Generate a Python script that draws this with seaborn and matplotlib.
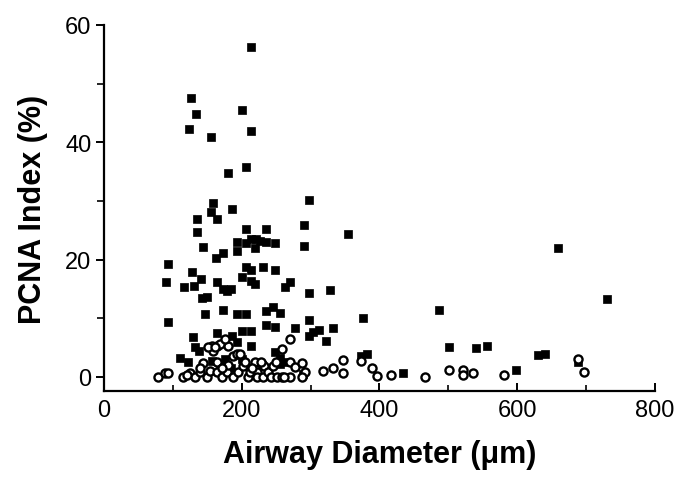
import matplotlib
matplotlib.use("Agg")
import matplotlib.pyplot as plt
import seaborn as sns
import pandas as pd
from matplotlib.ticker import MultipleLocator

# Filled squares
sq_x = [213, 127, 134, 200, 123, 155, 213, 206, 180,
        158, 186, 298, 135, 155, 164, 290, 135, 206, 235, 354,
        193, 207, 214, 221, 226, 235, 249, 220, 290, 144, 193, 173, 163, 93, 660,
        128, 207, 214, 231, 249, 200, 141, 214, 219, 164, 90, 116, 131, 270, 263,
        173, 178, 184, 142, 149, 298, 329, 731,
        173, 235, 245, 255, 147, 193, 206, 486, 93, 298, 376,
        235, 249, 277, 333, 298, 304, 312, 200, 214, 164, 129, 186, 322,
        132, 138, 214, 193, 110, 122, 248, 374, 382, 501, 541, 556, 631, 640,
        435, 255, 289, 598, 688, 157, 168, 176, 266, 255, 200, 230, 185]
sq_y = [56.2, 47.5, 44.8, 45.5, 42.2, 40.9, 41.9, 35.8, 34.8,
        29.7, 28.7, 30.1, 26.9, 28.1, 26.9, 25.9, 24.7, 25.2, 25.2, 24.4,
        23.0, 22.8, 23.5, 23.5, 23.2, 23.0, 22.8, 22.0, 22.3, 22.1, 21.5, 21.2, 20.2, 19.3, 22.0,
        17.9, 18.7, 18.3, 18.7, 18.3, 17.0, 16.7, 16.4, 15.8, 16.2, 16.2, 15.3, 15.5, 16.2, 15.3,
        15.0, 14.7, 15.0, 13.5, 13.6, 14.3, 14.8, 13.3,
        11.4, 11.2, 11.9, 10.9, 10.7, 10.7, 10.7, 11.4, 9.4, 9.7, 10.0,
        8.9, 8.5, 8.3, 8.3, 7.0, 7.7, 8.0, 7.8, 7.8, 7.5, 6.8, 7.0, 6.1,
        5.1, 4.5, 5.3, 5.9, 3.2, 2.5, 4.2, 3.6, 3.9, 5.1, 4.9, 5.3, 3.7, 3.9,
        0.7, 2.2, 0.5, 1.2, 2.5, 2.7, 1.9, 3.1, 2.5, 3.3, 3.0, 2.0, 1.5]

# Open circles
ci_x = [79, 88, 93, 115, 125, 132, 139, 144, 149, 154, 157, 164, 158, 151, 164, 164,
        171, 178, 180, 187, 193, 197, 187, 194, 202, 209, 212, 219, 222, 222, 231, 233,
        238, 243, 251, 258, 259, 270, 270, 277, 287, 292, 287, 270, 245, 262, 318, 333,
        347, 347, 374, 389, 396, 417, 466, 501, 521, 521, 536, 581, 688, 697, 168, 176,
        161, 120, 180, 205, 215, 228, 250, 140, 172]
ci_y = [0.0, 0.7, 0.7, 0.0, 0.7, 0.0, 0.8, 2.4, 0.0, 1.0, 5.3, 5.3, 4.5, 5.1, 2.5, 0.8,
        0.0, 0.8, 5.3, 3.6, 3.9, 3.9, 0.0, 0.8, 1.9, 0.0, 0.8, 2.5, 0.8, 0.0, 0.0, 1.9,
        0.8, 0.0, 0.0, 0.0, 4.8, 6.5, 2.5, 1.7, 2.4, 0.8, 0.0, 0.0, 1.9, 0.0, 1.0, 1.6,
        2.9, 0.7, 2.7, 1.5, 0.2, 0.3, 0.0, 1.2, 1.2, 0.3, 0.6, 0.3, 3.1, 0.8, 5.6, 6.5,
        5.1, 0.3, 2.0, 2.6, 1.5, 2.5, 2.5, 1.5, 1.5]

x_ticks = [0, 200, 400, 600, 800]
y_ticks = [0, 20, 40, 60]

sns.set_style("ticks")
plt.rcParams['font.family'] = ['Liberation Sans', 'DejaVu Sans']
plt.rcParams['text.color'] = 'black'
plt.rcParams['axes.labelcolor'] = 'black'

fig = plt.figure(figsize=(6.75, 4.81), dpi=100)
ax = fig.add_axes([0.154, 0.185, 0.816, 0.761])

df_sq = pd.DataFrame({"x": sq_x, "y": sq_y})
df_ci = pd.DataFrame({"x": ci_x, "y": ci_y})

sns.scatterplot(data=df_sq, x="x", y="y", marker="s", s=40, color="black",
                edgecolor="black", linewidth=0.5, ax=ax, zorder=3)
sns.scatterplot(data=df_ci, x="x", y="y", marker="o", s=34, facecolor="white",
                edgecolor="black", linewidth=1.7, ax=ax, zorder=4)

ax.set_xlim(0, 800)
ax.set_ylim(-2.4, 60)
ax.set_xticks(x_ticks)
ax.set_yticks(y_ticks)
ax.xaxis.set_minor_locator(MultipleLocator(100))
ax.yaxis.set_minor_locator(MultipleLocator(10))

for s in ["top", "right"]:
    ax.spines[s].set_visible(False)
for s in ["left", "bottom"]:
    ax.spines[s].set_linewidth(1.6)
    ax.spines[s].set_color("black")
ax.spines["left"].set_bounds(-2.4, 60)

ax.tick_params(axis="x", which="major", direction="in", length=6, width=1.4,
               labelsize=17, pad=6, colors="black")
ax.tick_params(axis="x", which="minor", direction="in", length=4, width=1.2, colors="black")
ax.tick_params(axis="y", which="major", direction="out", length=6, width=1.4,
               labelsize=17, pad=3, colors="black")
ax.tick_params(axis="y", which="minor", direction="out", length=5, width=1.2, colors="black")

ax.set_xlabel("Airway Diameter (\u03bcm)", fontsize=22, fontweight="bold",
              labelpad=13, color="black")
ax.set_ylabel("PCNA Index (%)", fontsize=22, fontweight="bold",
              labelpad=12, color="black")

fig.savefig("out.png", dpi=100)
